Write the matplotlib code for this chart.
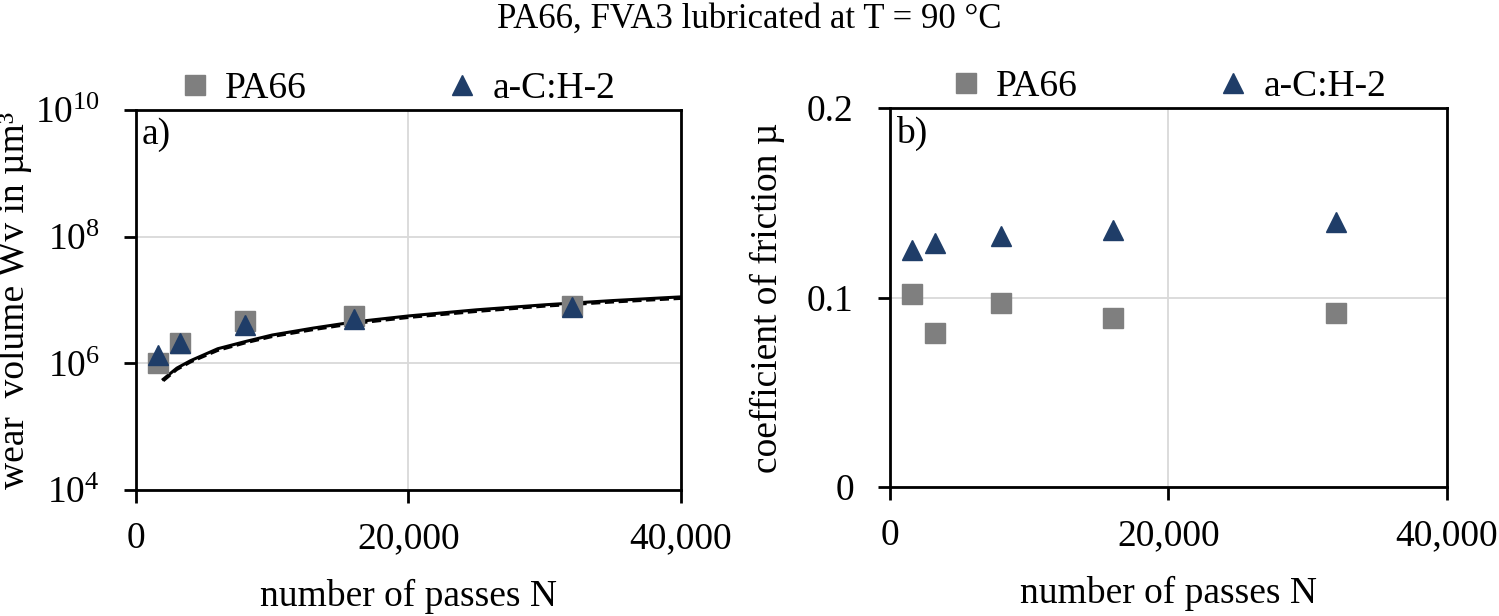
import math
import matplotlib
matplotlib.use('Agg')
import matplotlib.pyplot as plt
from matplotlib.ticker import FixedLocator, FuncFormatter

plt.rcParams['font.family'] = ['Liberation Serif', 'DejaVu Serif']
plt.rcParams['mathtext.fontset'] = 'custom'
plt.rcParams['mathtext.rm'] = 'Liberation Serif'
plt.rcParams['mathtext.it'] = 'Liberation Serif:italic'

# data
passes = [1600, 3200, 8000, 16000, 32000]
wear_pa66 = [1.0e6, 2.1e6, 4.6e6, 5.6e6, 7.9e6]
wear_ach2 = [1.35e6, 2.1e6, 4.0e6, 5.1e6, 7.8e6]
cof_pa66 = [0.102, 0.0815, 0.097, 0.089, 0.092]
cof_ach2 = [0.125, 0.129, 0.1325, 0.1355, 0.140]

fit_n = [2000, 3000, 4000, 6000, 8000, 10000, 13000, 16000, 20000,
         25000, 30000, 35000, 40000]
fit_solid = [5.6e5, 8.4e5, 1.1e6, 1.7e6, 2.2e6, 2.8e6, 3.6e6, 4.5e6,
             5.6e6, 7.0e6, 8.4e6, 9.8e6, 1.12e7]
fit_dashed = [5.3e5, 8.0e5, 1.05e6, 1.6e6, 2.1e6, 2.65e6, 3.4e6, 4.25e6,
              5.3e6, 6.6e6, 8.0e6, 9.3e6, 1.06e7]

x_ticks = [0, 20000, 40000]
gray = '#7f7f7f'
navy = '#1f3d68'
fs = 27

fig = plt.figure(figsize=(14.99, 6.16), dpi=100)
ax1 = fig.add_axes([0.0907, 0.2045, 0.3636, 0.617])
ax2 = fig.add_axes([0.5937, 0.2094, 0.3716, 0.615])


def style(ax):
    for s in ax.spines.values():
        s.set_linewidth(2.0)
        s.set_color('black')
    ax.grid(True, color='#d9d9d9', linewidth=1.3)
    ax.set_axisbelow(True)
    ax.tick_params(axis='both', which='major', length=9, width=2,
                   direction='out', labelsize=fs)
    ax.tick_params(axis='x', pad=14)
    ax.tick_params(axis='y', pad=17)
    ax.tick_params(which='minor', length=0)
    ax.set_xlim(0, 40000)
    ax.xaxis.set_major_locator(FixedLocator(x_ticks))
    ax.xaxis.set_major_formatter(FuncFormatter(lambda v, p: f'{int(v):,}'))
    ax.set_xlabel('number of passes N', fontsize=fs, labelpad=16)


# a) wear volume
ax1.set_yscale('log')
ax1.plot(fit_n, fit_solid, color='black', lw=2.2, zorder=3)
ax1.plot(fit_n, fit_dashed, color='black', lw=2.2, ls=(0, (3, 1.5)), zorder=3)
ax1.plot(passes, wear_pa66, ls='none', marker='s', ms=15, color=gray,
         label='PA66', zorder=4)
ax1.plot(passes, wear_ach2, ls='none', marker='^', ms=15, color=navy,
         label='a-C:H-2', zorder=5)
ax1.set_ylim(1e4, 1e10)
ax1.yaxis.set_major_locator(FixedLocator([1e4, 1e6, 1e8, 1e10]))
ax1.yaxis.set_major_formatter(
    FuncFormatter(lambda v, p: r'$10^{%d}$' % round(math.log10(v))))
style(ax1)
ax1.set_ylabel('wear  volume Wv in µm³', fontsize=fs)
ax1.yaxis.set_label_coords(-0.19, 0.5)
ax1.text(0.01, 0.98, 'a)', transform=ax1.transAxes, fontsize=fs,
         va='top', ha='left')

# b) coefficient of friction
ax2.plot(passes, cof_pa66, ls='none', marker='s', ms=15, color=gray,
         label='PA66', zorder=4)
ax2.plot(passes, cof_ach2, ls='none', marker='^', ms=15, color=navy,
         label='a-C:H-2', zorder=5)
ax2.set_ylim(0, 0.2)
ax2.yaxis.set_major_locator(FixedLocator([0, 0.1, 0.2]))
ax2.yaxis.set_major_formatter(FuncFormatter(lambda v, p: f'{v:g}'))
style(ax2)
ax2.set_ylabel('coefficient of friction µ', fontsize=fs, labelpad=16)
ax2.text(0.01, 0.98, 'b)', transform=ax2.transAxes, fontsize=fs,
         va='top', ha='left')

for ax, cx in ((ax1, 0.48), (ax2, 0.5)):
    ax.legend(loc='lower center', bbox_to_anchor=(cx, 0.99), ncol=2,
              frameon=False, fontsize=fs, columnspacing=3.75,
              handlelength=0.8, handletextpad=0.4, borderaxespad=0.1,
              borderpad=0.1)

fig.suptitle('PA66, FVA3 lubricated at T = 90 °C', fontsize=25, y=0.995)

fig.savefig('out.png', dpi=100)
